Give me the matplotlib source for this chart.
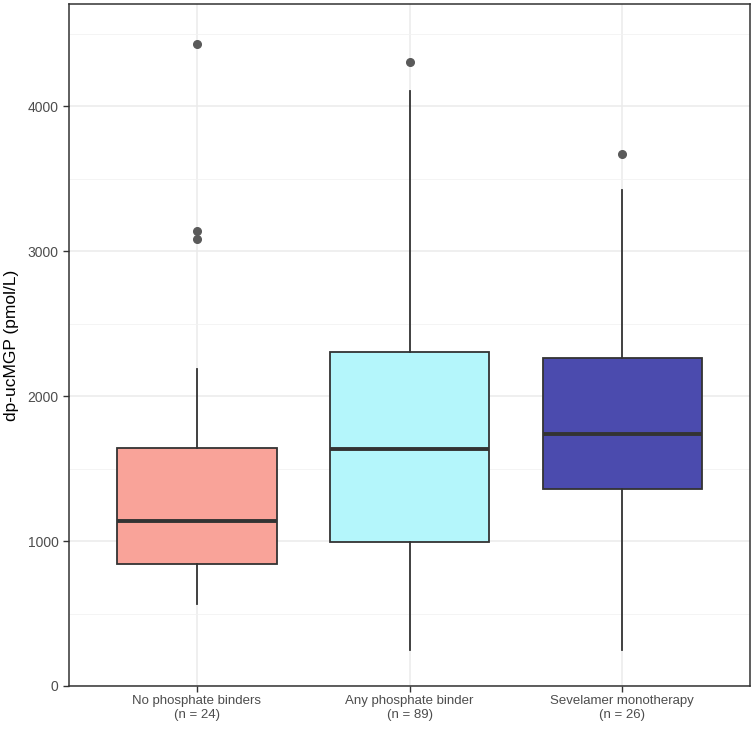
import numpy as np
import matplotlib
matplotlib.use('Agg')
import matplotlib.pyplot as plt

plt.rcParams['font.family'] = ['Liberation Sans', 'DejaVu Sans']

# box statistics (pmol/L)
groups = ['No phosphate binders\n(n = 24)', 'Any phosphate binder\n(n = 89)', 'Sevelamer monotherapy\n(n = 26)']
q1 = [839, 993, 1362]
med = [1140, 1634, 1738]
q3 = [1639, 2305, 2266]
whislo = [565, 248, 248]
whishi = [2190, 4105, 3425]
outliers = [[4428, 3138, 3087], [4302], [3668]]
fills = ['#F9A399', '#B4F6FB', '#4B4BAE']

stats = []
for i in range(len(groups)):
    stats.append(dict(label=groups[i], q1=q1[i], med=med[i], q3=q3[i],
                      whislo=whislo[i], whishi=whishi[i], fliers=outliers[i]))

fig = plt.figure(figsize=(7.55, 7.29), dpi=100)
ax = fig.add_axes([0.0914, 0.059, 0.902, 0.9355])

ax.set_axisbelow(True)
ax.grid(True, which='major', color='#EBEBEB', linewidth=1.1)
ax.set_yticks([500, 1500, 2500, 3500, 4500], minor=True)
ax.grid(True, which='minor', axis='y', color='#F2F2F2', linewidth=0.6)

bp = ax.bxp(stats, positions=[1, 2, 3], widths=0.75, patch_artist=True,
            showcaps=False,
            boxprops=dict(edgecolor='#333333', linewidth=1.3),
            medianprops=dict(color='#333333', linewidth=2.8),
            whiskerprops=dict(color='#333333', linewidth=1.3),
            flierprops=dict(marker='o', markerfacecolor='#5A5A5A', markeredgecolor='#5A5A5A',
                            markersize=5.5))
for patch, c in zip(bp['boxes'], fills):
    patch.set_facecolor(c)

ax.set_xlim(0.4, 3.6)
ax.set_ylim(0, 4705)
ax.set_yticks([0, 1000, 2000, 3000, 4000])
ax.set_xticks([1, 2, 3])
ax.set_xticklabels(groups, fontsize=9.5, color='#4D4D4D', linespacing=1.2)
ax.tick_params(axis='x', pad=2.5)
ax.tick_params(axis='y', labelsize=10, labelcolor='#4D4D4D')
ax.tick_params(which='major', length=4, color='#333333', width=1)
ax.tick_params(which='minor', length=0)
ax.set_ylabel('dp-ucMGP (pmol/L)', fontsize=12.5, color='black', labelpad=6)

for s in ax.spines.values():
    s.set_color('#333333')
    s.set_linewidth(1.1)

fig.savefig('out.png', dpi=100, facecolor='white')
